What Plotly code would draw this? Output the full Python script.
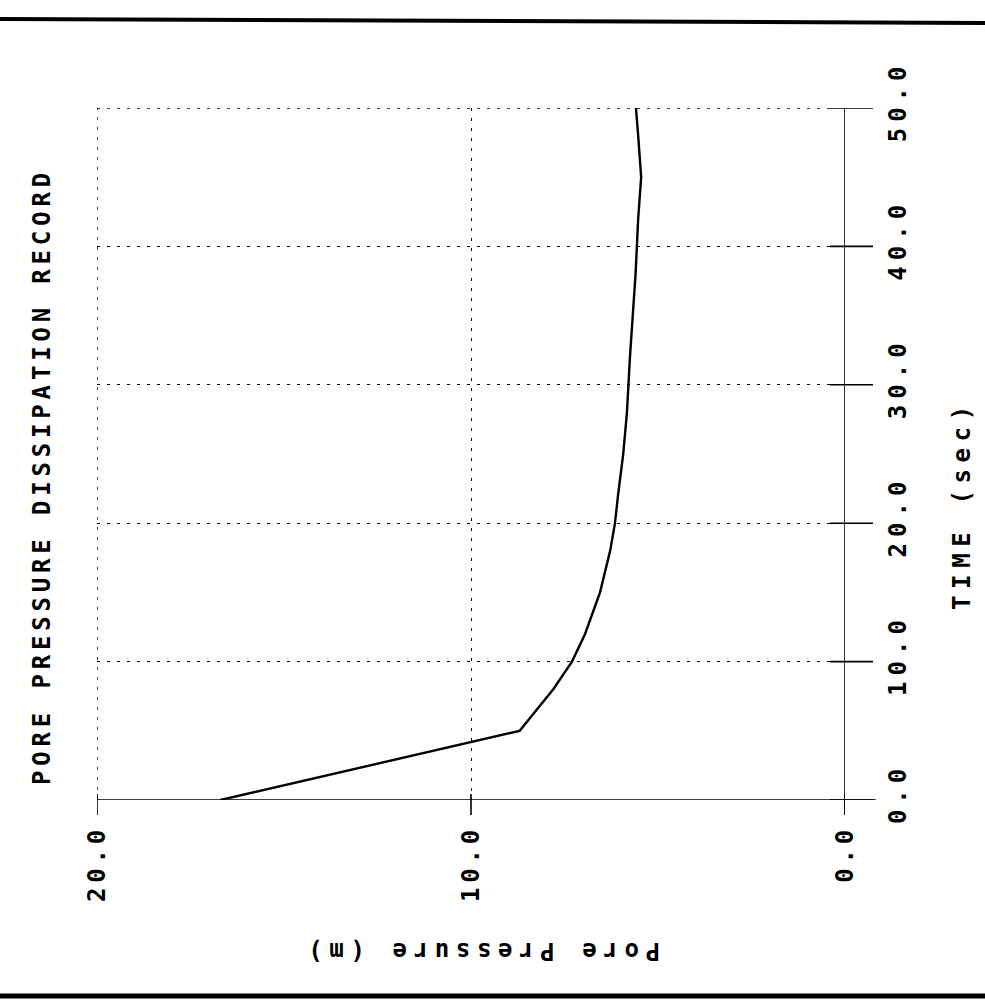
import plotly.graph_objects as go

# Pore pressure dissipation record: time (s) vs pore pressure (m)
time_s = [0, 5, 6, 7, 8, 10, 12, 15, 18, 20, 22, 25, 28, 32, 35, 38, 42, 45, 48, 50]
pressure_m = [16.7, 8.7, 8.4, 8.1, 7.8, 7.3, 6.95, 6.55, 6.28, 6.15, 6.07, 5.93,
              5.83, 5.75, 5.68, 5.6, 5.53, 5.45, 5.53, 5.59]

pressure_ticks = [20.0, 10.0, 0.0]
time_ticks = [0.0, 10.0, 20.0, 30.0, 40.0, 50.0]

title_text = "PORE PRESSURE DISSIPATION RECORD"
time_label = "TIME (sec)"
pressure_label = "Pore Pressure (m)"

FONT = "DejaVu Sans Mono"
INK = "#000000"
DOTS = "3px,7px"


def spaced(s, gap=8):
    """Widen the letter pitch of a monospace string with small spacer spans."""
    sp = f'<span style="font-size:{gap}px">\u00a0</span>'
    return sp.join(ch if ch != " " else "\u00a0" for ch in s)


fig = go.Figure()
fig.add_trace(go.Scatter(
    x=pressure_m, y=time_s, mode="lines",
    line=dict(color=INK, width=2.4), hoverinfo="skip", showlegend=False,
))

# plot-area geometry in pixels (used for paper-relative decorations)
L, R, T, B = 97, 845, 108, 800
W, H = R - L, B - T


def px_x(p):
    return (p - L) / W


def px_y(p):
    return (B - p) / H


shapes = []
# dotted grid lines on the outer edges (pressure 20, time 50)
shapes.append(dict(type="line", xref="x", yref="paper", x0=pressure_ticks[0], x1=pressure_ticks[0],
                   y0=0, y1=1, line=dict(color=INK, width=1.4, dash=DOTS)))
shapes.append(dict(type="line", xref="paper", yref="y", x0=0, x1=px_x(830),
                   y0=time_ticks[-1], y1=time_ticks[-1], line=dict(color=INK, width=1.4, dash=DOTS)))
# solid axis lines (time = 0 and pressure = 0), running slightly past the grid
shapes.append(dict(type="line", xref="paper", yref="y", x0=0, x1=px_x(876), y0=0, y1=0,
                   line=dict(color=INK, width=1.6)))
shapes.append(dict(type="line", xref="x", yref="paper", x0=0, x1=0, y0=px_y(T), y1=px_y(815),
                   line=dict(color=INK, width=1.6)))
# major ticks crossing the time axis line
for t in time_ticks:
    shapes.append(dict(type="line", xref="paper", yref="y", x0=px_x(830), x1=px_x(873),
                       y0=t, y1=t, line=dict(color=INK, width=1.6)))
# major ticks on the pressure axis
for p in pressure_ticks:
    shapes.append(dict(type="line", xref="x", yref="paper", x0=p, x1=p,
                       y0=px_y(794), y1=px_y(815), line=dict(color=INK, width=1.6)))
# heavy rules across the top and bottom of the sheet
shapes.append(dict(type="line", xref="paper", yref="paper", x0=px_x(0), x1=px_x(985),
                   y0=px_y(19), y1=px_y(23), line=dict(color=INK, width=4)))
shapes.append(dict(type="line", xref="paper", yref="paper", x0=px_x(0), x1=px_x(985),
                   y0=px_y(996), y1=px_y(996), line=dict(color=INK, width=5)))

label_font = dict(family=FONT, size=24, color=INK, weight="bold")

annotations = [
    dict(text=spaced(title_text, 8), x=px_x(42), y=px_y(479), xref="paper", yref="paper",
         textangle=-90, showarrow=False, xanchor="center", yanchor="middle", font=label_font),
    dict(text=spaced(time_label, 11), x=px_x(962), y=px_y(508), xref="paper", yref="paper",
         textangle=-90, showarrow=False, xanchor="center", yanchor="middle", font=label_font),
    dict(text=spaced(pressure_label, 11), x=px_x(484), y=px_y(951), xref="paper", yref="paper",
         textangle=180, showarrow=False, xanchor="center", yanchor="middle", font=label_font),
]

fig.update_layout(
    width=985, height=1001,
    margin=dict(l=L, r=985 - R, t=T, b=1001 - B, pad=0),
    paper_bgcolor="white", plot_bgcolor="white",
    shapes=shapes, annotations=annotations,
    showlegend=False,
)

fig.update_xaxes(
    range=[20, 0], tickvals=pressure_ticks,
    ticktext=[spaced(f"{v:.1f}", 8) for v in pressure_ticks],
    tickangle=-90, ticks="", ticklabelstandoff=24,
    showgrid=True, gridcolor=INK, gridwidth=1.4, griddash=DOTS,
    zeroline=False, showline=False, tickfont=label_font,
)
fig.update_yaxes(
    range=[0, 50], side="right", tickvals=time_ticks,
    ticktext=[spaced(f"{v:.1f}", 10) for v in time_ticks],
    tickangle=-90, ticks="", ticklabelstandoff=36,
    showgrid=True, gridcolor=INK, gridwidth=1.4, griddash=DOTS,
    zeroline=False, showline=False, tickfont=label_font,
)

fig.write_html("out.html")
